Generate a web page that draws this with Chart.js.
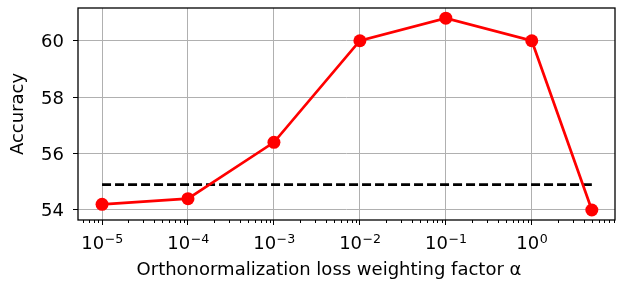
<!DOCTYPE html>
<html>
<head>
<meta charset="utf-8">
<script src="https://cdn.jsdelivr.net/npm/chart.js@4.4.1/dist/chart.umd.min.js"></script>
<style>
  html, body { margin: 0; padding: 0; background: #fff; }
  #wrap { width: 617px; height: 281px; }
</style>
</head>
<body>
<div id="wrap"><canvas id="chart" width="617" height="281"></canvas></div>
<script>
// alpha values and accuracy
const alphas = [1e-5, 1e-4, 1e-3, 1e-2, 1e-1, 1, 5];
const accuracy = [54.2, 54.4, 56.4, 60.0, 60.8, 60.0, 54.0];
const baselineX = [1e-5, 5];
const baselineY = [54.9, 54.9];
const xTicks = [1e-5, 1e-4, 1e-3, 1e-2, 1e-1, 1];
const yTicks = [54, 56, 58, 60];
const xTitle = "Orthonormalization loss weighting factor \u03B1";
const yTitle = "Accuracy";

const FONT = "'DejaVu Sans', sans-serif";

// tick labels, axis titles, frame and minor log ticks
const axesPlugin = {
  id: "axesText",
  afterDraw(chart) {
    const { ctx, chartArea: a } = chart;
    const xs = chart.scales.x;
    const ys = chart.scales.y;
    ctx.save();

    // minor ticks on the log axis
    ctx.strokeStyle = "#000";
    ctx.lineWidth = 1;
    for (let n = -6; n <= 1; n++) {
      for (let k = 2; k <= 9; k++) {
        const v = k * Math.pow(10, n);
        if (v < xs.min || v > xs.max) continue;
        const px = Math.round(xs.getPixelForValue(v)) + 0.5;
        ctx.beginPath();
        ctx.moveTo(px, a.bottom);
        ctx.lineTo(px, a.bottom + 3);
        ctx.stroke();
      }
    }

    // frame
    ctx.lineWidth = 1.3;
    ctx.strokeRect(a.left, a.top, a.right - a.left, a.bottom - a.top);

    ctx.fillStyle = "#000";

    // y tick labels
    ctx.font = "18px " + FONT;
    ctx.textAlign = "right";
    ctx.textBaseline = "alphabetic";
    yTicks.forEach(v => {
      const py = ys.getPixelForValue(v);
      ctx.fillText(String(v), 64, py + 6.5);
    });

    // x tick labels as 10^n
    xTicks.forEach(v => {
      const e = Math.round(Math.log10(v));
      const base = "10";
      const exp = e < 0 ? "\u2212" + Math.abs(e) : String(e);
      ctx.font = "18px " + FONT;
      const wb = ctx.measureText(base).width;
      ctx.font = "12.6px " + FONT;
      const we = ctx.measureText(exp).width;
      const px = xs.getPixelForValue(v);
      const x0 = px - (wb + we) / 2;
      ctx.textAlign = "left";
      ctx.font = "18px " + FONT;
      ctx.fillText(base, x0, 249);
      ctx.font = "12.6px " + FONT;
      ctx.fillText(exp, x0 + wb + 0.5, 243);
    });

    // axis titles
    ctx.font = "18px " + FONT;
    ctx.textAlign = "center";
    ctx.fillText(xTitle, 329, 275);

    ctx.translate(23, (a.top + a.bottom) / 2);
    ctx.rotate(-Math.PI / 2);
    ctx.fillText(yTitle, 0, 0);

    ctx.restore();
  }
};

new Chart(document.getElementById("chart"), {
  type: "line",
  data: {
    datasets: [
      {
        data: alphas.map((x, i) => ({ x: x, y: accuracy[i] })),
        borderColor: "#ff0000",
        backgroundColor: "#ff0000",
        borderWidth: 2.7,
        pointRadius: 6.5,
        pointBorderWidth: 0,
        order: 1
      },
      {
        data: baselineX.map((x, i) => ({ x: x, y: baselineY[i] })),
        borderColor: "#000",
        borderWidth: 2.7,
        borderDash: [9, 4],
        pointRadius: 0,
        order: 2
      }
    ]
  },
  options: {
    responsive: false,
    animation: false,
    layout: { autoPadding: false, padding: { top: 8, right: 2, left: 0, bottom: 0 } },
    plugins: { legend: { display: false }, tooltip: { enabled: false } },
    scales: {
      x: {
        type: "logarithmic",
        min: 5.25e-6,
        max: 9.3,
        afterBuildTicks: s => { s.ticks = xTicks.map(v => ({ value: v })); },
        afterFit: s => { s.height = 61; },
        grid: { color: "#b0b0b0", lineWidth: 1, tickColor: "#000", tickLength: 5 },
        border: { display: false },
        ticks: { display: false }
      },
      y: {
        min: 53.645,
        max: 61.16,
        afterBuildTicks: s => { s.ticks = yTicks.map(v => ({ value: v })); },
        afterFit: s => { s.width = 78; },
        grid: { color: "#b0b0b0", lineWidth: 1, tickColor: "#000", tickLength: 5 },
        border: { display: false },
        ticks: { display: false }
      }
    }
  },
  plugins: [axesPlugin]
});
</script>
</body>
</html>
